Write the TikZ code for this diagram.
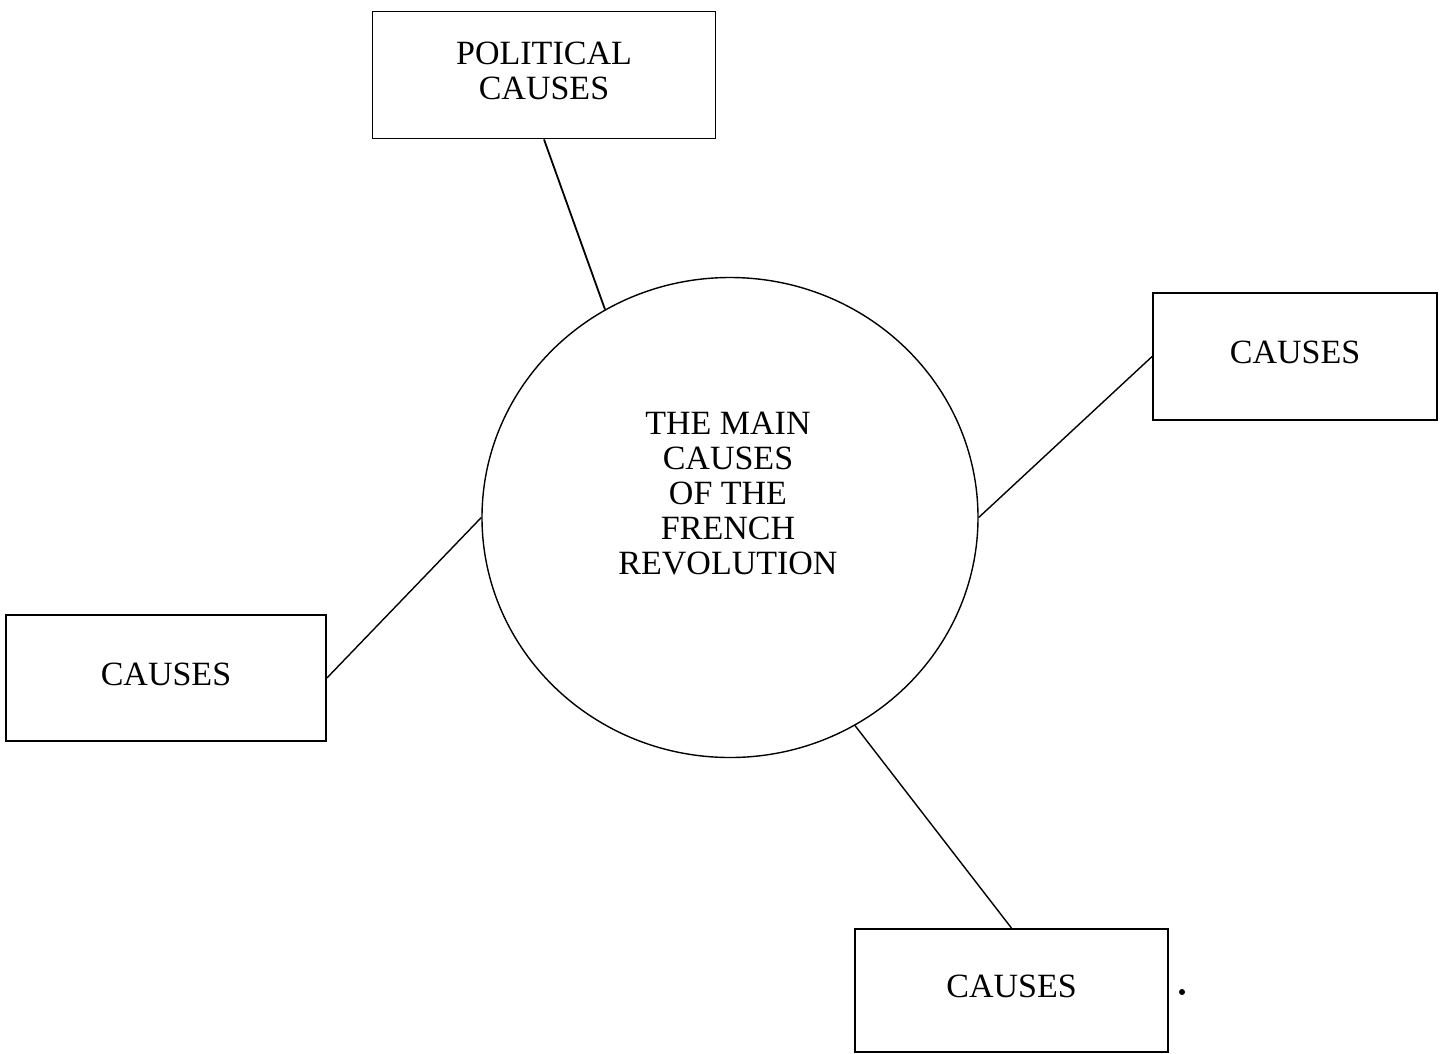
\documentclass[tikz,border=0pt]{standalone}
\usepackage{fontspec}
\setmainfont{Liberation Serif}
\usetikzlibrary{shapes.geometric}
\begin{document}
\begin{tikzpicture}[x=1pt,y=-1pt,
  every node/.style={font=\fontsize{34}{35}\selectfont, align=center},
  causebox/.style={draw, line width=1.8pt, inner sep=0pt, rectangle, text depth=8pt},
  hub/.style={draw, ellipse, line width=1.4pt, inner sep=0pt, minimum width=496pt, minimum height=480pt},
  link/.style={line width=1.4pt}]
\useasboundingbox (0,0) rectangle (1441,1053);
\node[hub] (c) at (730,517.5) {};
\node (ct) at (728,494) {THE MAIN\\CAUSES\\OF THE\\FRENCH\\REVOLUTION};
\node[causebox, minimum width=343pt, minimum height=127pt] (tb) at (544,75) {POLITICAL\\CAUSES};
\node[causebox, minimum width=284pt, minimum height=127pt] (rb) at (1295,356.5) {CAUSES};
\node[causebox, minimum width=320pt, minimum height=126pt] (lb) at (166,678) {CAUSES};
\node[causebox, minimum width=313pt, minimum height=123pt] (bb) at (1011.5,990.5) {CAUSES};
\draw[link, line width=1.8pt] (tb.south) -- (c.121);
\draw[link] (rb.west) -- (c.0);
\draw[link] (lb.east) -- (c.180);
\draw[link] (bb.north) -- (c.301);
\fill (1182,992) circle (3pt);
\end{tikzpicture}
\end{document}
